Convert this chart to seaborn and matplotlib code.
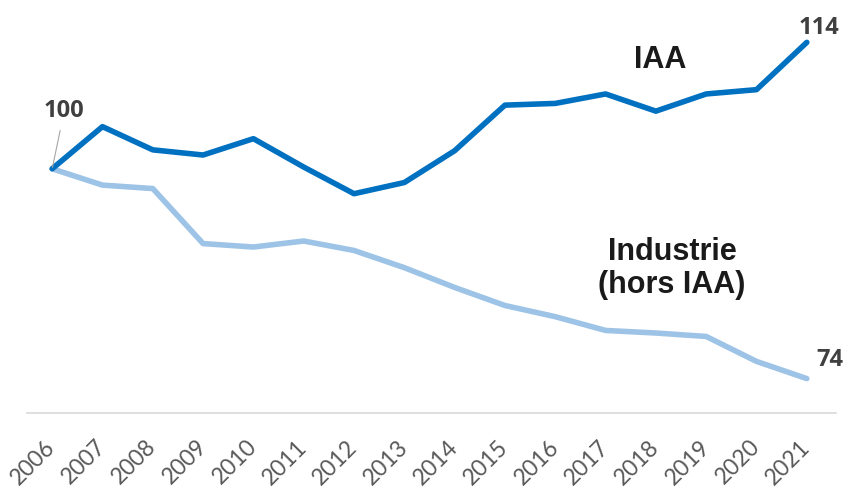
import matplotlib
matplotlib.use("Agg")
import matplotlib.pyplot as plt
import seaborn as sns
import pandas as pd

years = [str(y) for y in range(2006, 2022)]
iaa = [100, 104.9, 102.2, 101.6, 103.5, 100.2, 97.1, 98.4, 102.1, 107.4,
       107.6, 108.7, 106.7, 108.7, 109.2, 114.7]
industrie = [100, 98.1, 97.7, 91.3, 90.9, 91.6, 90.5, 88.5, 86.2, 84.1,
             82.8, 81.2, 80.9, 80.5, 77.6, 75.6]

df = pd.DataFrame({"annee": years, "IAA": iaa, "Industrie": industrie})
df["x"] = range(len(df))

sns.set_style("white")
plt.rcParams["font.family"] = ["Liberation Sans", "DejaVu Sans"]

fig = plt.figure(figsize=(8.43, 4.88), dpi=100)
ax = fig.add_axes([27 / 843, 75 / 488, (836 - 27) / 843, (413 - 20) / 488])

sns.lineplot(data=df, x="x", y="Industrie", color="#9DC3E6", lw=4, ax=ax)
sns.lineplot(data=df, x="x", y="IAA", color="#0070C0", lw=4, ax=ax)

ax.set_xlim(-0.5, 15.58)
ax.set_ylim(71.6, 117.3)
ax.set_yticks([])
ax.set_xlabel(""); ax.set_ylabel("")
for s in ["top", "right", "left"]:
    ax.spines[s].set_visible(False)
ax.spines["bottom"].set_color("#d9d9d9")
ax.spines["bottom"].set_linewidth(1.2)

ax.set_xticks(df["x"])
ax.set_xticklabels(years, rotation=45, ha="right", va="center",
                   rotation_mode="anchor", fontsize=16.5, color="#595959",
                   family=["Lato", "DejaVu Sans"])
ax.tick_params(axis="x", length=0, pad=22)

num = dict(fontsize=17, weight="bold", color="#404040", family=["Open Sans", "DejaVu Sans"],
           ha="center", va="center")
ax.annotate("100", xy=(0, iaa[0]), xytext=(0.24, 106.7), **num,
            arrowprops=dict(arrowstyle="-", color="#a6a6a6", lw=0.8, shrinkA=3, shrinkB=1))
ax.text(15.25, 116.4, "114", **num)
ax.text(15.45, 77.8, "74", **num)

ax.text(12.08, 112.7, "IAA", fontsize=22, weight="bold", color="#1a1a1a",
        ha="center", va="center")
ax.text(12.32, 88.4, "Industrie\n(hors IAA)", fontsize=22, weight="bold",
        color="#1a1a1a", ha="center", va="center", linespacing=1.1)

fig.savefig("out.png", dpi=100)
